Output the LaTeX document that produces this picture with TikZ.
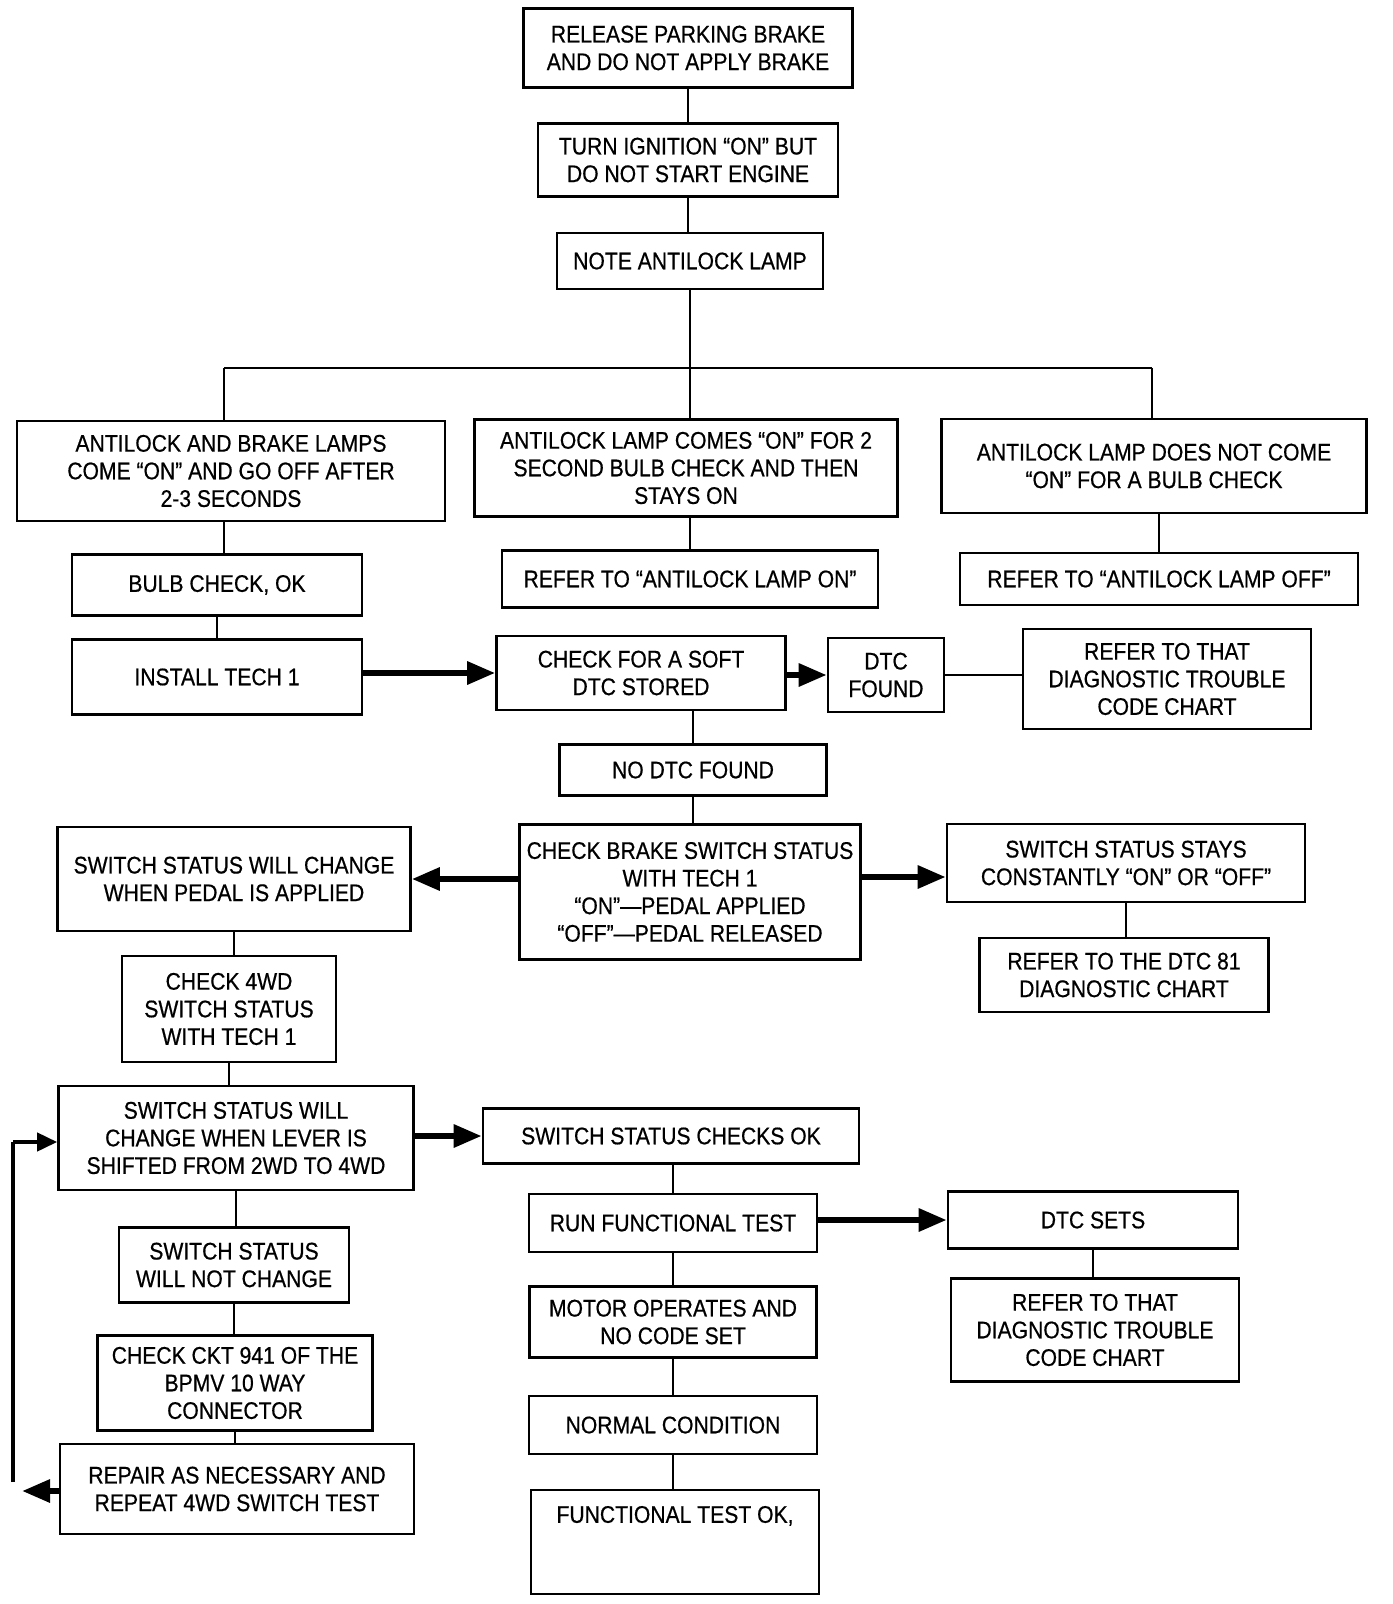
\documentclass[tikz,border=0pt]{standalone}
\usepackage{fontspec}
\setmainfont{Liberation Sans}[FakeStretch=0.88,FakeBold=0.6]
\usetikzlibrary{arrows.meta}
\begin{document}
\begin{tikzpicture}[x=0.5pt,y=-0.5pt,
  box/.style={draw, line width=1.3pt, align=center, inner sep=0pt,
    font=\fontsize{12pt}{13.8pt}\selectfont},
  conn/.style={line width=1.1pt},
  thickarrow/.style={line width=3pt, -{Triangle[length=14pt,width=11pt]}},
  medarrow/.style={line width=2pt, -{Triangle[length=10pt,width=9pt]}}]
\useasboundingbox[fill=white] (0,0) rectangle (1392,1604);

% top chain
\node[box, minimum width=164.5pt, minimum height=39.5pt] (r1) at (688,48) {RELEASE PARKING BRAKE\\AND DO NOT APPLY BRAKE};
\node[box, minimum width=150pt, minimum height=36.5pt] (r2) at (688,160) {TURN IGNITION ``ON'' BUT\\DO NOT START ENGINE};
\node[box, minimum width=133pt, minimum height=28pt] (r3) at (690,261) {NOTE ANTILOCK LAMP};

% three branches
\node[box, minimum width=214pt, minimum height=50pt] (a1) at (231,471) {ANTILOCK AND BRAKE LAMPS\\COME ``ON'' AND GO OFF AFTER\\2-3 SECONDS};
\node[box, minimum width=211.5pt, minimum height=48.5pt] (a2) at (686,468) {ANTILOCK LAMP COMES ``ON'' FOR 2\\SECOND BULB CHECK AND THEN\\STAYS ON};
\node[box, minimum width=212.5pt, minimum height=47pt] (a3) at (1154,466) {ANTILOCK LAMP DOES NOT COME\\``ON'' FOR A BULB CHECK};

\node[box, minimum width=145pt, minimum height=30.5pt] (b1) at (217,585) {BULB CHECK, OK};
\node[box, minimum width=188pt, minimum height=28.5pt] (b2) at (690,579) {REFER TO ``ANTILOCK LAMP ON''};
\node[box, minimum width=199pt, minimum height=26pt] (b3) at (1159,579) {REFER TO ``ANTILOCK LAMP OFF''};

\node[box, minimum width=145pt, minimum height=37.5pt] (tech) at (217,677) {INSTALL TECH 1};
\node[box, minimum width=144.5pt, minimum height=37pt] (soft) at (641,673) {CHECK FOR A SOFT\\DTC STORED};
\node[box, minimum width=58pt, minimum height=37pt] (found) at (886,675) {DTC\\FOUND};
\node[box, minimum width=144pt, minimum height=50pt] (chart1) at (1167,679) {REFER TO THAT\\DIAGNOSTIC TROUBLE\\CODE CHART};

\node[box, minimum width=133.5pt, minimum height=25.5pt] (nodtc) at (693,770) {NO DTC FOUND};
\node[box, minimum width=170.5pt, minimum height=67.5pt] (brake) at (690,892) {CHECK BRAKE SWITCH STATUS\\WITH TECH 1\\``ON''—PEDAL APPLIED\\``OFF''—PEDAL RELEASED};
\node[box, minimum width=176.5pt, minimum height=52pt] (pedal) at (234,879) {SWITCH STATUS WILL CHANGE\\WHEN PEDAL IS APPLIED};
\node[box, minimum width=179pt, minimum height=39pt] (stays) at (1126,863) {SWITCH STATUS STAYS\\CONSTANTLY ``ON'' OR ``OFF''};
\node[box, minimum width=144.5pt, minimum height=37pt] (dtc81) at (1124,975) {REFER TO THE DTC 81\\DIAGNOSTIC CHART};

\node[box, minimum width=107pt, minimum height=53pt] (chk4wd) at (229,1009) {CHECK 4WD\\SWITCH STATUS\\WITH TECH 1};
\node[box, minimum width=177.5pt, minimum height=52pt] (lever) at (236,1138) {SWITCH STATUS WILL\\CHANGE WHEN LEVER IS\\SHIFTED FROM 2WD TO 4WD};
\node[box, minimum width=188pt, minimum height=27.5pt] (ok) at (671,1136) {SWITCH STATUS CHECKS OK};
\node[box, minimum width=115pt, minimum height=37.5pt] (notchg) at (234,1265) {SWITCH STATUS\\WILL NOT CHANGE};
\node[box, minimum width=137.5pt, minimum height=47.5pt] (ckt) at (235,1383) {CHECK CKT 941 OF THE\\BPMV 10 WAY\\CONNECTOR};
\node[box, minimum width=177pt, minimum height=45pt] (repair) at (237,1489) {REPAIR AS NECESSARY AND\\REPEAT 4WD SWITCH TEST};

\node[box, minimum width=144pt, minimum height=29pt] (run) at (673,1223) {RUN FUNCTIONAL TEST};
\node[box, minimum width=145pt, minimum height=28.5pt] (sets) at (1093,1220) {DTC SETS};
\node[box, minimum width=144pt, minimum height=51.5pt] (chart2) at (1095,1330) {REFER TO THAT\\DIAGNOSTIC TROUBLE\\CODE CHART};
\node[box, minimum width=143.5pt, minimum height=35.5pt] (motor) at (673,1322) {MOTOR OPERATES AND\\NO CODE SET};
\node[box, minimum width=144pt, minimum height=29pt] (normal) at (673,1425) {NORMAL CONDITION};
\node[box, minimum width=144pt, minimum height=52pt] (ftok) at (675,1542) {FUNCTIONAL TEST OK,\\\mbox{}\\\mbox{}};

% connectors
\draw[conn] (r1.south) -- (r1.south |- r2.north);
\draw[conn] (r2.south) -- (r2.south |- r3.north);
\coordinate (jL) at (224,368);
\coordinate (jR) at (1152,368);
\draw[conn] (r3.south) -- (r3.south |- a2.north);
\draw[conn] (jL) -- (jR);
\draw[conn] (jL) -- (jL |- a1.north);
\draw[conn] (jR) -- (jR |- a3.north);

\draw[conn] (jL |- a1.south) -- (jL |- b1.north);
\draw[conn] (b2.north |- a2.south) -- (b2.north);
\draw[conn] (b3.north |- a3.south) -- (b3.north);
\draw[conn] (b1.south) -- (tech.north);

\draw[thickarrow] (tech.east |- soft.west) -- (soft.west);
\draw[thickarrow] (soft.east |- found.west) -- (found.west);
\draw[conn] (found.east) -- (found.east -| chart1.west);
\draw[conn] (nodtc.north |- soft.south) -- (nodtc.north);
\draw[conn] (nodtc.south) -- (nodtc.south |- brake.north);

\draw[thickarrow] (brake.west |- pedal.east) -- (pedal.east);
\draw[thickarrow] ([yshift=7.5pt]brake.east) -- ([yshift=7.5pt]brake.east -| stays.west);
\draw[conn] (stays.south) -- (stays.south |- dtc81.north);

\draw[conn] (pedal.south) -- (pedal.south |- chk4wd.north);
\draw[conn] (chk4wd.south) -- (chk4wd.south |- lever.north);
\draw[thickarrow] (lever.east |- ok.west) -- (ok.west);
\draw[conn] (lever.south) -- (lever.south |- notchg.north);
\draw[conn] (notchg.south) -- (notchg.south |- ckt.north);
\draw[conn] (ckt.south) -- (ckt.south |- repair.north);

% feedback loop
\coordinate (lbotA) at (22,1491);
\coordinate (lbot) at (13,1482);
\coordinate (ltop) at (13,1142);
\draw[thickarrow] (repair.west |- lbotA) -- (lbotA);
\draw[line width=1.6pt] (lbot) -- (ltop);
\draw[medarrow] (ltop) -- (ltop -| lever.west);

\draw[conn] (run.north |- ok.south) -- (run.north);
\draw[thickarrow] (run.east |- sets.west) -- (sets.west);
\draw[conn] (sets.south) -- (sets.south |- chart2.north);
\draw[conn] (run.south) -- (run.south |- motor.north);
\draw[conn] (motor.south) -- (motor.south |- normal.north);
\draw[conn] (normal.south) -- (normal.south |- ftok.north);
\end{tikzpicture}
\end{document}
